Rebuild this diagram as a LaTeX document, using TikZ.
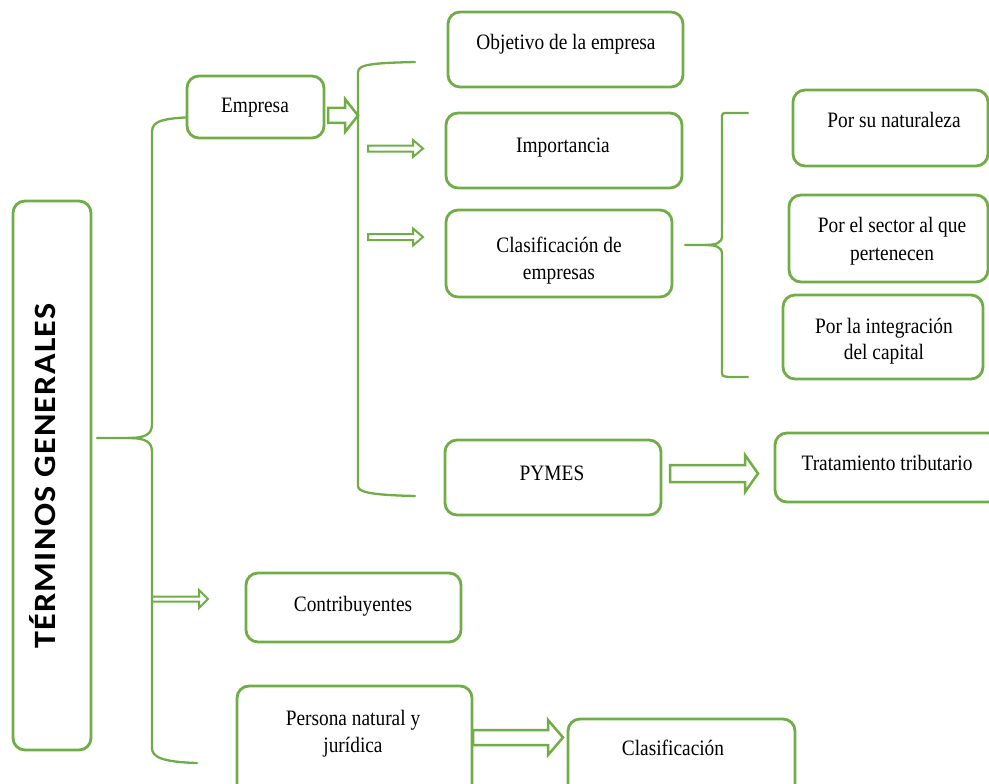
\documentclass[tikz,border=0pt]{standalone}
\usepackage{fontspec}
\setmainfont{Liberation Serif}[FakeStretch=0.88]
\newfontfamily\titlefont{Carlito}[FakeStretch=1.1,LetterSpace=4]
\usetikzlibrary{calc}
\definecolor{leaf}{HTML}{70AD47}
\tikzset{
  box/.style={draw=leaf, line width=2.8pt, rounded corners=12pt, fill=white, inner sep=0pt},
  txt/.style={font=\fontsize{22}{28}\selectfont, anchor=base, inner sep=0pt, text=black},
  brace/.style={draw=leaf, line width=2.3pt, line cap=round},
  arr/.style={draw=leaf, line width=2.5pt, fill=white, line join=miter},
  thinarr/.style={arr, line width=2pt},
}
% horizontal hollow arrow: start, tip, shaft half-height, head half-height, head length
\newcommand\hollowarrow[6][arr]{%
  \draw[#1] ($(#2)+(0,#4)$) -- ($(#3)+(-#6,#4)$) -- ($(#3)+(-#6,#5)$) -- (#3)
    -- ($(#3)+(-#6,-#5)$) -- ($(#3)+(-#6,-#4)$) -- ($(#2)+(0,-#4)$) -- cycle;}
\begin{document}
\begin{tikzpicture}[x=1pt, y=-1pt]
\useasboundingbox (0,0) rectangle (989,784);
\clip (0,0) rectangle (989,784);

% ---- braces ----
\coordinate (mbtop) at (197,117);
\coordinate (mbtip) at (97,438);
\coordinate (mbbot) at (197,763);
\draw[brace] (mbtop) .. controls (162,118) and (152,121) .. (152,132) -- (152,424)
  .. controls (152,434) and (146,438) .. (128,438) -- (mbtip);
\draw[brace] (128,438) .. controls (146,438) and (152,442) .. (152,452) -- (152,748)
  .. controls (152,757) and (162,762) .. (mbbot);

\coordinate (ebtop) at (415,62);
\coordinate (ebbot) at (415,496);
\draw[brace] (ebtop) .. controls (375,63) and (358,64) .. (358,72) -- (358,486)
  .. controls (358,492) and (370,495) .. (ebbot);

\coordinate (cbtop) at (748,113);
\coordinate (cbtip) at (685,245);
\coordinate (cbbot) at (748,377);
\draw[brace] (cbtop) -- (728,113) .. controls (722,113) .. (722,119) -- (722,236)
  .. controls (722,243) and (716,245) .. (705,245) -- (cbtip);
\draw[brace] (705,245) .. controls (716,245) and (722,247) .. (722,254) -- (722,371)
  .. controls (722,376) .. (728,377) -- (cbbot);

% ---- boxes ----
\node[box, minimum width=78pt,  minimum height=549pt] (term)   at (52,475.5) {};
\node[box, minimum width=137pt, minimum height=62pt]  (emp)    at (255.5,107) {};
\node[box, minimum width=235pt, minimum height=75pt]  (obj)    at (565.5,49.5) {};
\node[box, minimum width=236pt, minimum height=75pt]  (imp)    at (564,150.5) {};
\node[box, minimum width=226pt, minimum height=87pt]  (clas)   at (559,253.5) {};
\node[box, minimum width=195pt, minimum height=76pt]  (nat)    at (890.5,128) {};
\node[box, minimum width=199pt, minimum height=87pt]  (sec)    at (888.5,238.5) {};
\node[box, minimum width=200pt, minimum height=84pt]  (integ)  at (883,337) {};
\node[box, minimum width=216pt, minimum height=75pt]  (pymes)  at (553,477.5) {};
\node[box, minimum width=225pt, minimum height=69pt]  (trat)   at (887.5,467.5) {};
\node[box, minimum width=215pt, minimum height=69pt]  (contr)  at (353.5,607.5) {};
\node[box, minimum width=235pt, minimum height=114pt] (pers)   at (354.5,743) {};
\node[box, minimum width=227pt, minimum height=81pt]  (clasif) at (681.5,759.5) {};

% ---- texts ----
\node[rotate=90, anchor=base, inner sep=0pt, font=\titlefont\bfseries\fontsize{31}{36}\selectfont]
  (termt) at (55,476) {TÉRMINOS GENERALES};
\node[txt] (empt)    at (255,113) {Empresa};
\node[txt] (objt)    at (566,50)  {Objetivo de la empresa};
\node[txt] (impt)    at (563,152) {Importancia};
\node[txt] (clast1)  at (559,252) {Clasificación de};
\node[txt] (clast2)  at (559,279) {empresas};
\node[txt] (natt)    at (894,128) {Por su naturaleza};
\node[txt] (sect1)   at (892,232) {Por el sector al que};
\node[txt] (sect2)   at (892,260) {pertenecen};
\node[txt] (integt1) at (884,333) {Por la integración};
\node[txt] (integt2) at (884,359) {del capital};
\node[txt] (pymest)  at (552,480) {PYMES};
\node[txt] (tratt)   at (887,470) {Tratamiento tributario};
\node[txt] (contrt)  at (353,611) {Contribuyentes};
\node[txt] (perst1)  at (353,725) {Persona natural y};
\node[txt] (perst2)  at (353,752) {jurídica};
\node[txt] (clasift) at (673,755) {Clasificación};

% ---- arrows ----
\coordinate (a1s) at (328,115.5); \coordinate (a1e) at (358,115.5);
\coordinate (a2s) at (368,148.5); \coordinate (a2e) at (423,148.5);
\coordinate (a3s) at (368,237);   \coordinate (a3e) at (423,237);
\coordinate (a4s) at (152,599);   \coordinate (a4e) at (208,599);
\coordinate (a5s) at (670,473.5); \coordinate (a5e) at (758,473.5);
\coordinate (a6s) at (473,737.5); \coordinate (a6e) at (563,737.5);
\hollowarrow{a1s}{a1e}{7.5}{16.5}{13}
\hollowarrow[thinarr]{a2s}{a2e}{3}{8.5}{10}
\hollowarrow[thinarr]{a3s}{a3e}{3}{8.5}{10}
\hollowarrow[thinarr]{a4s}{a4e}{2.5}{9}{9}
\hollowarrow{a5s}{a5e}{8.5}{18.5}{13}
\hollowarrow{a6s}{a6e}{7.5}{17.5}{15}
\end{tikzpicture}
\end{document}
